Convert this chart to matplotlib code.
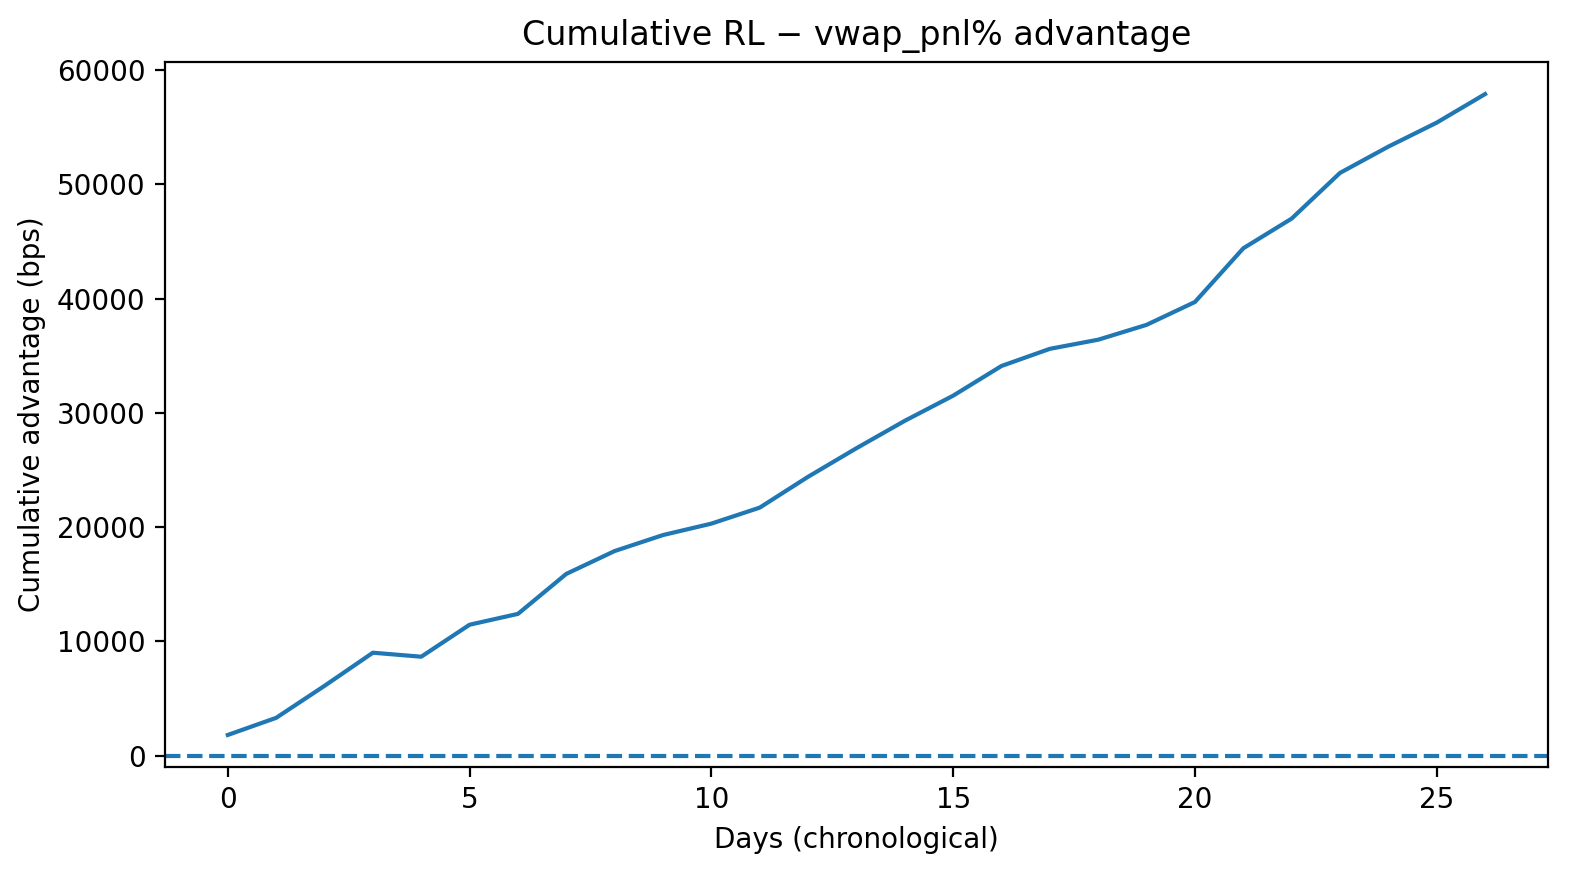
import numpy as np
import matplotlib.pyplot as plt

days = np.arange(27)
cum_adv = [1800, 3300, 6100, 9000, 8650, 11450, 12400, 15900, 17900, 19300,
           20300, 21700, 24400, 26900, 29300, 31500, 34100, 35600, 36400, 37700,
           39700, 44400, 47000, 51000, 53300, 55400, 57900]

fig, ax = plt.subplots(figsize=(7.9, 4.4), dpi=200)
ax.plot(days, cum_adv)
ax.axhline(0, linestyle="--")
ax.set_title("Cumulative RL \u2212 vwap_pnl% advantage")
ax.set_xlabel("Days (chronological)")
ax.set_ylabel("Cumulative advantage (bps)")
fig.subplots_adjust(left=0.1044, right=0.9797, top=0.9295, bottom=0.1284)
fig.savefig("out.png")
